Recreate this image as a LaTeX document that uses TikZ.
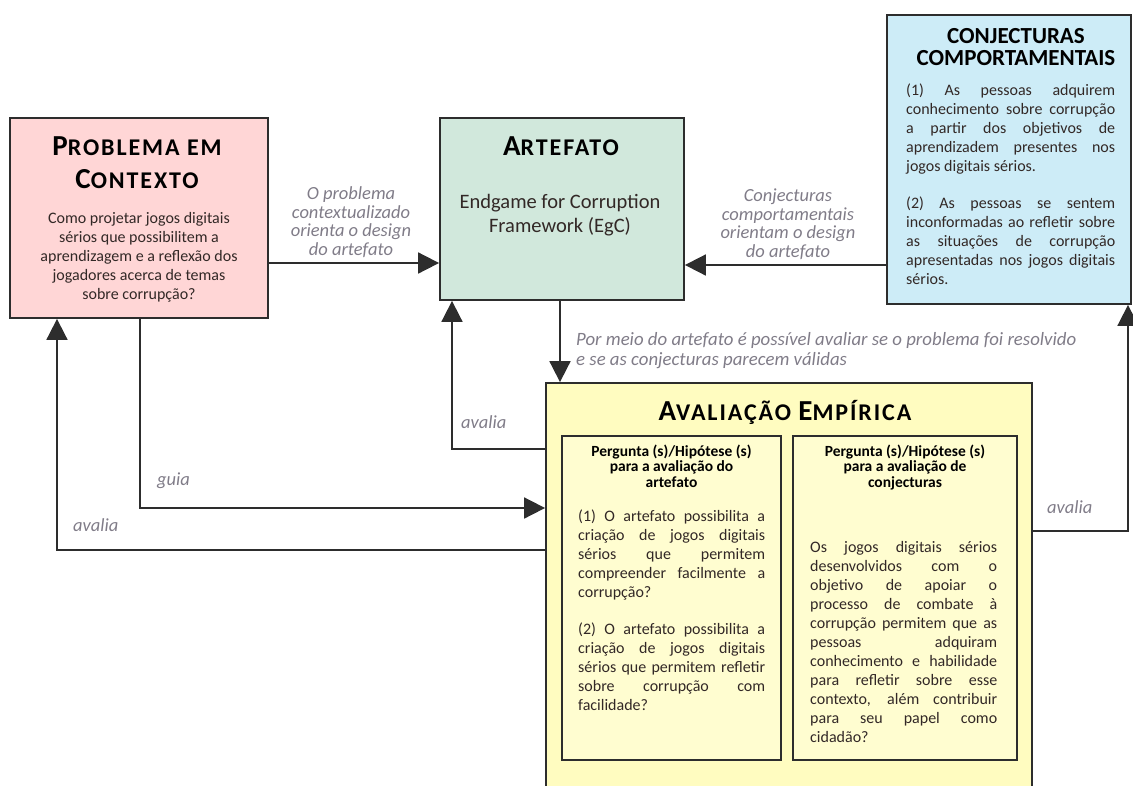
\documentclass[tikz,border=0pt]{standalone}
\usepackage{fontspec}
\setmainfont{Carlito}
\usetikzlibrary{arrows.meta}
\definecolor{linegray}{RGB}{45,45,45}
\definecolor{probfill}{RGB}{255,214,214}
\definecolor{artfill}{RGB}{209,232,220}
\definecolor{conjfill}{RGB}{205,236,247}
\definecolor{avalfill}{RGB}{255,252,192}
\definecolor{qfill}{RGB}{255,253,208}
\definecolor{lblgray}{RGB}{128,124,136}
\definecolor{txtdark}{RGB}{50,40,38}
\newcommand{\smallcap}[2]{{\fontsize{29}{33}\selectfont #1}{\fontsize{24}{33}\selectfont\addfontfeature{LetterSpace=8}#2}}
\tikzset{
  box/.style={draw=linegray, line width=1.8pt, inner sep=0pt},
  arr/.style={draw=linegray, line width=1.8pt, -{Triangle[length=21pt,width=21pt]}},
  lbl/.style={text=lblgray, font=\itshape\fontsize{18.5}{18.5}\selectfont, align=center, inner sep=0pt},
  title/.style={text=black, font=\bfseries\fontsize{29}{33}\selectfont, align=center, inner sep=0pt},
  body/.style={text=txtdark, font=\fontsize{16}{19}\selectfont, inner sep=0pt},
  qhead/.style={text=black, font=\bfseries\fontsize{15.5}{15.5}\selectfont, align=center, inner sep=0pt}
}
\begin{document}
\begin{tikzpicture}[x=1pt,y=-1pt]
\useasboundingbox (0,0) rectangle (1133,785);
\clip (0,0) rectangle (1133,785);
% caixas
\node[box, fill=probfill, minimum width=258pt, minimum height=200pt] (prob) at (139,218) {};
\node[box, fill=artfill, minimum width=244pt, minimum height=182pt] (art) at (562,209) {};
\node[box, fill=conjfill, minimum width=244pt, minimum height=289pt] (conj) at (1009,159.5) {};
\node[box, fill=avalfill, minimum width=486pt, minimum height=420pt] (aval) at (789,593) {};
\node[box, fill=qfill, minimum width=219pt, minimum height=324pt] (q1) at (671.5,598) {};
\node[box, fill=qfill, minimum width=224pt, minimum height=324pt] (q2) at (905,598) {};
% textos das caixas
\node[title, anchor=base] (probtitle) at (137,188) {\smallcap{P}{ROBLEMA EM}\\\smallcap{C}{ONTEXTO}};
\node[body, align=center, anchor=base] (probtxt) at (139,299) {Como projetar jogos digitais\\ sérios que possibilitem a\\ aprendizagem e a reflexão dos\\ jogadores acerca de temas\\ sobre corrupção?};
\node[title, anchor=base] (arttitle) at (561,155) {\smallcap{A}{RTEFATO}};
\node[body, align=center, anchor=base, font=\fontsize{20.5}{24}\selectfont] (arttxt) at (560,232) {Endgame for Corruption\\ Framework (EgC)};
\node[title, anchor=base, font=\bfseries\fontsize{23}{22}\selectfont] (conjtitle) at (1016,65) {CONJECTURAS\\ COMPORTAMENTAIS};
\node[body, align=justify, text width=209pt, anchor=north west] (conjtxt) at (906,84) {(1) As pessoas adquirem\linebreak conhecimento sobre corrupção\linebreak a partir dos objetivos de\linebreak aprendizadem presentes nos\linebreak jogos digitais sérios.\par\vspace{18pt}(2) As pessoas se sentem\linebreak inconformadas ao refletir sobre\linebreak as situações de corrupção\linebreak apresentadas nos jogos digitais\linebreak sérios.};
\node[title, anchor=base] (avaltitle) at (785,420) {\smallcap{A}{VALIAÇÃO }\smallcap{E}{MPÍRICA}};
\node[qhead, anchor=base] (q1head) at (671.5,487) {Pergunta (s)/Hipótese (s)\\ para a avaliação do\\ artefato};
\node[body, align=justify, text width=187pt, anchor=north west] (q1txt) at (578,510) {(1) O artefato possibilita a\linebreak criação de jogos digitais\linebreak sérios que permitem\linebreak compreender facilmente a\linebreak corrupção?\par\vspace{18pt}(2) O artefato possibilita a\linebreak criação de jogos digitais\linebreak sérios que permitem refletir\linebreak sobre corrupção com\linebreak facilidade?};
\node[qhead, anchor=base] (q2head) at (905,487) {Pergunta (s)/Hipótese (s)\\ para a avaliação de\\ conjecturas};
\node[body, align=justify, text width=187pt, anchor=north west] (q2txt) at (810,541) {Os jogos digitais sérios\linebreak desenvolvidos com o\linebreak objetivo de apoiar o\linebreak processo de combate à\linebreak corrupção permitem que as\linebreak pessoas adquiram\linebreak conhecimento e habilidade\linebreak para refletir sobre esse\linebreak contexto, além contribuir\linebreak para seu papel como\linebreak cidadão?};
% conectores
\draw[arr] ([yshift=-45pt]prob.east) coordinate (p1) -- (p1 -| art.west);
\draw[arr] ([yshift=-105.5pt]conj.west) coordinate (c1) -- (c1 -| art.east);
\draw[arr] ([xshift=-2pt]art.south) coordinate (a1) -- (a1 |- aval.north);
\draw[arr] ([yshift=144pt]aval.west) -| ([xshift=-110pt]art.south);
\draw[arr] ([xshift=1pt]prob.south) |- ([yshift=85pt]aval.west);
\draw[arr] ([yshift=43pt]aval.west) -| ([xshift=-82pt]prob.south);
\draw[arr] ([yshift=62pt]aval.east) -| ([xshift=119pt]conj.south);
% rotulos
\node[lbl, anchor=base] (lblprob) at (351,255) {O problema\\ contextualizado\\ orienta o design\\ do artefato};
\node[lbl, anchor=base] (lblconj) at (788,257) {Conjecturas\\ comportamentais\\ orientam o design\\ do artefato};
\node[lbl, align=left, anchor=base west, font=\itshape\fontsize{18.8}{20}\selectfont] (lblmeio) at (576,365) {Por meio do artefato é possível avaliar se o problema foi resolvido\\ e se as conjecturas parecem válidas};
\node[lbl, anchor=base west] (lblart) at (461,428) {avalia};
\node[lbl, anchor=base west] (lblguia) at (157,485) {guia};
\node[lbl, anchor=base west] (lblprob2) at (73,531) {avalia};
\node[lbl, anchor=base west] (lblconj2) at (1047,513) {avalia};
\end{tikzpicture}
\end{document}
